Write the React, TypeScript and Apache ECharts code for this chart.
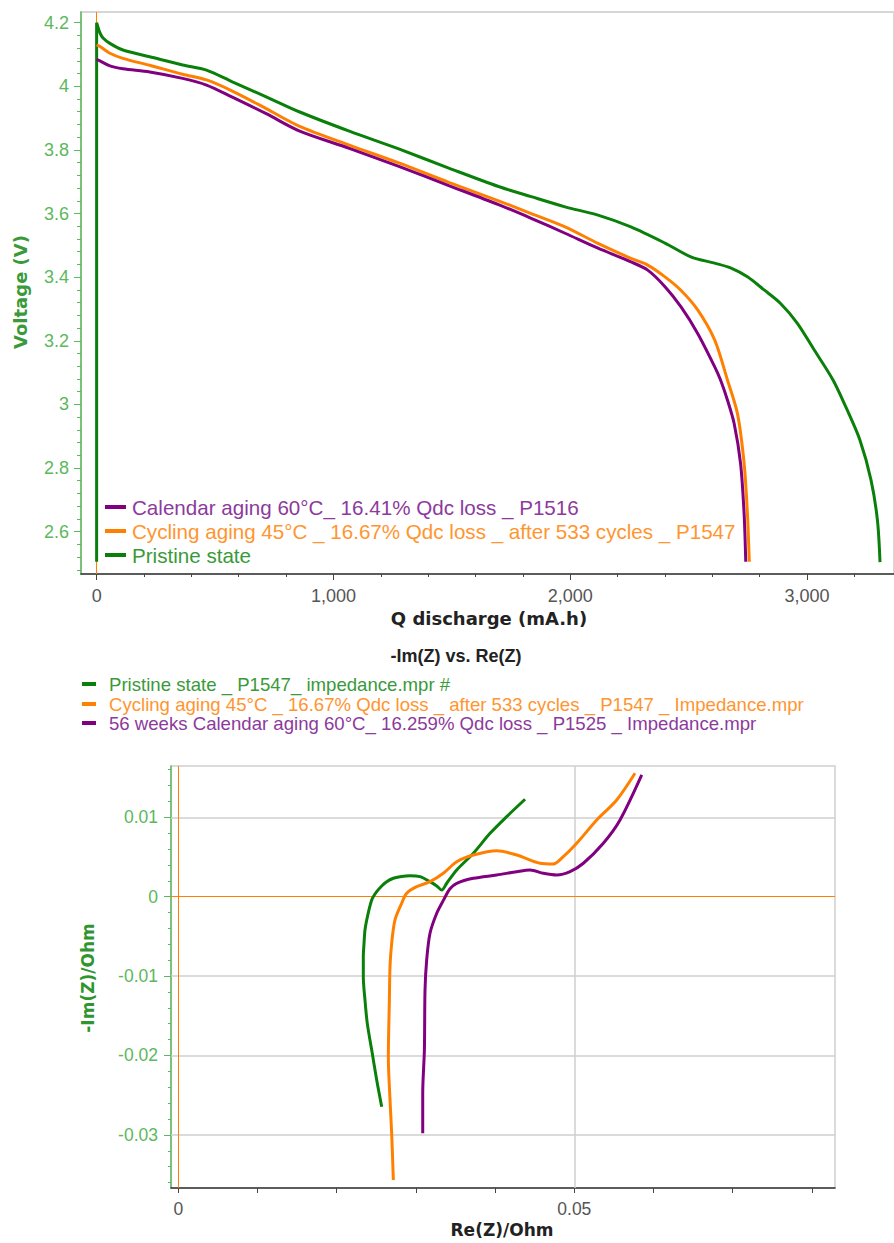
import React, { useEffect, useRef } from "react";
import * as echarts from "echarts";

// ---------- colours ----------
const GREEN = "#0a800a";
const ORANGE = "#ff8000";
const PURPLE = "#800080";
const GREEN_TXT = "#3a9a3a";
const ORANGE_TXT = "#ff9530";
const PURPLE_TXT = "#8c3a9c";
const AXIS_GREEN = "#5cb85c";

// ---------- top chart: discharge curves ----------
const topLegend = [
  "Calendar aging 60°C_ 16.41% Qdc loss _ P1516",
  "Cycling aging 45°C _ 16.67% Qdc loss _ after 533 cycles _ P1547",
  "Pristine state",
];

const pristineQ = [0, 0, 14, 27, 56, 111, 224, 363, 464, 573, 716, 855, 1067, 1276, 1487, 1697, 1835, 1978, 2117, 2256, 2400, 2509, 2610, 2677, 2748, 2820, 2887, 2959, 3031, 3110, 3164, 3223, 3270, 3297, 3308];
const pristineV = [2.505, 4.2, 4.168, 4.152, 4.135, 4.114, 4.093, 4.067, 4.051, 4.014, 3.967, 3.92, 3.859, 3.803, 3.743, 3.685, 3.653, 3.621, 3.595, 3.558, 3.507, 3.464, 3.444, 3.429, 3.401, 3.359, 3.318, 3.255, 3.17, 3.076, 2.991, 2.888, 2.762, 2.636, 2.504];

const cyclingQ = [0, 14, 56, 111, 224, 363, 464, 573, 716, 855, 1067, 1276, 1487, 1697, 1835, 1978, 2117, 2256, 2327, 2400, 2467, 2538, 2610, 2664, 2706, 2734, 2748, 2756];
const cyclingV = [4.13, 4.125, 4.104, 4.088, 4.066, 4.038, 4.02, 3.985, 3.93, 3.875, 3.815, 3.759, 3.698, 3.64, 3.6, 3.558, 3.506, 3.459, 3.438, 3.401, 3.359, 3.297, 3.202, 3.076, 2.971, 2.815, 2.657, 2.505];

const calendarQ = [0, 14, 56, 111, 224, 363, 464, 573, 716, 855, 1067, 1276, 1487, 1697, 1835, 1978, 2117, 2256, 2327, 2400, 2467, 2538, 2610, 2635, 2664, 2692, 2719, 2734, 2741];
const calendarV = [4.085, 4.08, 4.064, 4.055, 4.045, 4.025, 4.004, 3.966, 3.914, 3.86, 3.805, 3.748, 3.688, 3.628, 3.585, 3.538, 3.491, 3.448, 3.422, 3.37, 3.307, 3.223, 3.118, 3.076, 3.013, 2.94, 2.815, 2.657, 2.505];

const qTicks = [0, 1000, 2000, 3000];
const qMinorTicks = [200, 400, 600, 800, 1200, 1400, 1600, 1800, 2200, 2400, 2600, 2800, 3200];
const voltTicks = [2.6, 2.8, 3, 3.2, 3.4, 3.6, 3.8, 4, 4.2];
const voltMinorTicks = [2.48, 2.52, 2.56, 2.64, 2.68, 2.72, 2.76, 2.84, 2.88, 2.92, 2.96, 3.04, 3.08, 3.12, 3.16, 3.24, 3.28, 3.32, 3.36, 3.44, 3.48, 3.52, 3.56, 3.64, 3.68, 3.72, 3.76, 3.84, 3.88, 3.92, 3.96, 4.04, 4.08, 4.12, 4.16];

// ---------- bottom chart: Nyquist ----------
const bottomTitle = "-Im(Z) vs. Re(Z)";
const bottomLegend = [
  "Pristine state _ P1547_ impedance.mpr #",
  "Cycling aging 45°C _ 16.67% Qdc loss _ after 533 cycles _ P1547 _ Impedance.mpr",
  "56 weeks Calendar aging 60°C_ 16.259% Qdc loss _ P1525 _ Impedance.mpr",
];

const pristineRe = [0.02568, 0.02505, 0.02442, 0.02386, 0.02357, 0.02336, 0.02336, 0.02345, 0.02357, 0.02379, 0.02412, 0.02442, 0.02462, 0.02505, 0.02568, 0.02631, 0.02715, 0.02799, 0.02926, 0.03052, 0.03178, 0.03263, 0.03326, 0.03389, 0.03515, 0.03725, 0.03936, 0.04146, 0.04378];
const pristineIm = [-0.02645, -0.02309, -0.01931, -0.01595, -0.01301, -0.01008, -0.00756, -0.00587, -0.00419, -0.00293, -0.00146, -0.00042, 0, 0.00063, 0.00135, 0.00189, 0.00232, 0.00252, 0.00265, 0.00252, 0.00189, 0.00135, 0.00084, 0.00169, 0.00336, 0.00547, 0.00798, 0.01008, 0.01227];

const cyclingRe = [0.02715, 0.02694, 0.02673, 0.02652, 0.02665, 0.02673, 0.02694, 0.02736, 0.0282, 0.02884, 0.0301, 0.03178, 0.03346, 0.03515, 0.03725, 0.0402, 0.04273, 0.04567, 0.04735, 0.04861, 0.0503, 0.05283, 0.05535, 0.05766];
const cyclingIm = [-0.03568, -0.0298, -0.0256, -0.0202, -0.013, -0.0088, -0.00587, -0.00293, -0.00083, 0.00043, 0.00126, 0.00189, 0.00295, 0.00441, 0.00525, 0.00579, 0.00525, 0.00421, 0.00412, 0.00504, 0.00673, 0.00966, 0.01218, 0.01554];

const calendarRe = [0.03086, 0.03086, 0.03107, 0.03115, 0.03136, 0.03178, 0.03263, 0.0335, 0.0343, 0.03515, 0.03725, 0.0402, 0.04273, 0.04441, 0.04609, 0.04778, 0.04946, 0.05114, 0.05366, 0.05577, 0.05851];
const calendarIm = [-0.0298, -0.02476, -0.0193, -0.01175, -0.00797, -0.00461, -0.00209, -0.0004, 0.001, 0.00169, 0.00232, 0.00273, 0.00315, 0.00336, 0.00295, 0.00273, 0.00315, 0.00421, 0.00673, 0.00966, 0.01533];

const reTicks = [0, 0.01, 0.02, 0.03, 0.04, 0.05, 0.06, 0.07, 0.08];
const reLabels = [0, 0.05];
const reGridLines = [0.05];
const imTicks = [-0.03, -0.02, -0.01, 0, 0.01];
const imMinorTicks = [-0.036, -0.034, -0.032, -0.028, -0.026, -0.024, -0.022, -0.018, -0.016, -0.014, -0.012, -0.008, -0.006, -0.004, -0.002, 0.002, 0.004, 0.006, 0.008, 0.012, 0.014, 0.016];
const imGridLines = [0.01, -0.01, -0.02, -0.03];

const zip = (xs: number[], ys: number[]) => xs.map((x, i) => [x, ys[i]]);

const SANS = '"Liberation Sans", Arial, sans-serif';
const BOLDSANS = '"DejaVu Sans", Verdana, sans-serif';

const TOP_H = 632;

function txt(x: number, y: number, text: string, font: string, fill: string, align = "left", vAlign = "middle", rotation = 0) {
  return {
    type: "text",
    x,
    y,
    rotation,
    silent: true,
    style: { text, font, fill, align, verticalAlign: vAlign, textAlign: align, textVerticalAlign: vAlign },
  };
}
function seg(x1: number, y1: number, x2: number, y2: number, stroke: string, lineWidth: number) {
  return { type: "line", silent: true, shape: { x1, y1, x2, y2 }, style: { stroke, lineWidth } };
}

function lineSeries(name: string, data: number[][], color: string, extra: any = {}) {
  return {
    name,
    type: "line",
    data,
    showSymbol: false,
    symbol: "none",
    smooth: 0.3,
    lineStyle: { color, width: 3 },
    itemStyle: { color },
    emphasis: { disabled: true },
    z: 3,
    ...extra,
  };
}

function topOption(): any {
  const legendColors = [PURPLE, ORANGE, GREEN];
  const legendTxt = [PURPLE_TXT, ORANGE_TXT, GREEN_TXT];
  const rows = [507, 531, 555];
  const graphic: any[] = [];
  topLegend.forEach((t, i) => {
    graphic.push(seg(105, rows[i], 126, rows[i], legendColors[i], 4));
    graphic.push(txt(132, rows[i], t, `20.6px ${SANS}`, legendTxt[i]));
  });
  graphic.push(txt(20, 292, "Voltage (V)", `bold 18px ${BOLDSANS}`, "#3a9a3a", "center", "middle", Math.PI / 2));
  graphic.push(txt(489, 609, "Q discharge (mA.h)", `bold 18px ${BOLDSANS}`, "#222", "center", "top"));

  const xCommon = { type: "value", min: -66, max: 3367, position: "bottom" };
  const yCommon = { type: "value", min: 2.4667, max: 4.2336, position: "left" };
  return {
    animation: false,
    backgroundColor: "#fff",
    grid: { left: 81, top: 12, right: -3, bottom: TOP_H - 574, show: true, borderColor: "#d6d6d6", borderWidth: 2, backgroundColor: "transparent" },
    xAxis: [
      {
        ...xCommon,
        axisLine: { show: true, onZero: false, lineStyle: { color: "#333", width: 1.5 } },
        axisTick: { show: true, customValues: qTicks, length: 6, lineStyle: { color: "#444" } },
        axisLabel: { show: true, customValues: qTicks, formatter: (v: number) => v.toLocaleString("en-US"), fontSize: 18, fontFamily: SANS, color: "#555", margin: 13 },
        splitLine: { show: false },
      },
      {
        ...xCommon,
        axisLine: { show: false, onZero: false },
        axisTick: { show: true, customValues: qMinorTicks, length: 3, lineStyle: { color: "#444" } },
        axisLabel: { show: false },
        splitLine: { show: false },
      },
    ],
    yAxis: [
      {
        ...yCommon,
        axisLine: { show: true, onZero: false, lineStyle: { color: AXIS_GREEN, width: 1.5 } },
        axisTick: { show: true, customValues: voltTicks, length: 7, lineStyle: { color: AXIS_GREEN } },
        axisLabel: { show: true, customValues: voltTicks, fontSize: 18, fontFamily: SANS, color: AXIS_GREEN, margin: 12 },
        splitLine: { show: false },
      },
      {
        ...yCommon,
        axisLine: { show: false, onZero: false },
        axisTick: { show: true, customValues: voltMinorTicks, length: 4, lineStyle: { color: AXIS_GREEN } },
        axisLabel: { show: false },
        splitLine: { show: false },
      },
    ],
    series: [
      lineSeries("Pristine state", zip(pristineQ, pristineV), GREEN, {
        markLine: {
          silent: true,
          z: 1,
          symbol: ["none", "none"],
          label: { show: false },
          lineStyle: { color: ORANGE, width: 1, type: "solid" },
          data: [{ xAxis: 0 }],
        },
      }),
      lineSeries(topLegend[1], zip(cyclingQ, cyclingV), ORANGE),
      lineSeries(topLegend[0], zip(calendarQ, calendarV), PURPLE),
    ],
    graphic,
  };
}

function bottomOption(): any {
  const off = TOP_H; // page y of this chart's top edge
  const legendColors = [GREEN, ORANGE, PURPLE];
  const legendTxt = [GREEN_TXT, ORANGE_TXT, PURPLE_TXT];
  const rows = [684, 704, 723].map((v) => v - off);
  const graphic: any[] = [];
  graphic.push(txt(456, 656 - off, bottomTitle, `bold 18px ${SANS}`, "#222", "center", "middle"));
  bottomLegend.forEach((t, i) => {
    graphic.push(seg(82, rows[i], 96, rows[i], legendColors[i], 4));
    graphic.push(txt(109, rows[i], t, `18.6px ${SANS}`, legendTxt[i]));
  });
  graphic.push(txt(88, 978 - off, "-Im(Z)/Ohm", `bold 17px ${BOLDSANS}`, "#2f952f", "center", "middle", Math.PI / 2));
  graphic.push(txt(502, 1230 - off, "Re(Z)/Ohm", `bold 17px ${BOLDSANS}`, "#222", "center", "middle"));

  const xCommon = { type: "value", min: -0.00092, max: 0.08291, position: "bottom" };
  const yCommon = { type: "value", min: -0.03669, max: 0.01646, position: "left" };
  return {
    animation: false,
    backgroundColor: "#fff",
    grid: { left: 171, top: 766 - off, right: 59, bottom: 55, show: true, borderColor: "#cfcfcf", borderWidth: 1.5, backgroundColor: "transparent" },
    xAxis: [
      {
        ...xCommon,
        axisLine: { show: true, onZero: false, lineStyle: { color: "#333", width: 1.5 } },
        axisTick: { show: true, customValues: reTicks, length: 5, lineStyle: { color: "#444" } },
        axisLabel: { show: true, customValues: reLabels, fontSize: 17.5, fontFamily: SANS, color: "#555", margin: 12 },
        splitLine: { show: false },
      },
    ],
    yAxis: [
      {
        ...yCommon,
        axisLine: { show: true, onZero: false, lineStyle: { color: AXIS_GREEN, width: 1.5 } },
        axisTick: { show: true, customValues: imTicks, length: 7, lineStyle: { color: AXIS_GREEN } },
        axisLabel: { show: true, customValues: imTicks, fontSize: 17.5, fontFamily: SANS, color: AXIS_GREEN, margin: 13 },
        splitLine: { show: false },
      },
      {
        ...yCommon,
        axisLine: { show: false, onZero: false },
        axisTick: { show: true, customValues: imMinorTicks, length: 3, lineStyle: { color: AXIS_GREEN } },
        axisLabel: { show: false },
        splitLine: { show: false },
      },
    ],
    series: [
      lineSeries(bottomLegend[0], zip(pristineRe, pristineIm), GREEN, {
        markLine: {
          silent: true,
          z: 1,
          symbol: ["none", "none"],
          label: { show: false },
          lineStyle: { color: "#cfcfcf", width: 1.5, type: "solid" },
          data: [...imGridLines.map((v) => ({ yAxis: v })), ...reGridLines.map((v) => ({ xAxis: v }))],
        },
      }),
      lineSeries(bottomLegend[1], zip(cyclingRe, cyclingIm), ORANGE, {
        markLine: {
          silent: true,
          z: 1,
          symbol: ["none", "none"],
          label: { show: false },
          lineStyle: { color: ORANGE, width: 1, type: "solid" },
          data: [{ xAxis: 0 }, { yAxis: 0 }],
        },
      }),
      lineSeries(bottomLegend[2], zip(calendarRe, calendarIm), PURPLE),
    ],
    graphic,
  };
}

export default function App() {
  const topRef = useRef<HTMLDivElement>(null);
  const botRef = useRef<HTMLDivElement>(null);
  useEffect(() => {
    const top = echarts.init(topRef.current!, null, { renderer: "svg" });
    const bot = echarts.init(botRef.current!, null, { renderer: "svg" });
    top.setOption(topOption());
    bot.setOption(bottomOption());
    return () => {
      top.dispose();
      bot.dispose();
    };
  }, []);
  return (
    <div style={{ position: "absolute", left: 0, top: 0, width: 894, height: 1243, background: "#fff", overflow: "hidden" }}>
      <div ref={topRef} style={{ position: "absolute", left: 0, top: 0, width: 894, height: TOP_H, overflow: "hidden" }} />
      <div ref={botRef} style={{ position: "absolute", left: 0, top: TOP_H, width: 894, height: 1243 - TOP_H }} />
    </div>
  );
}
